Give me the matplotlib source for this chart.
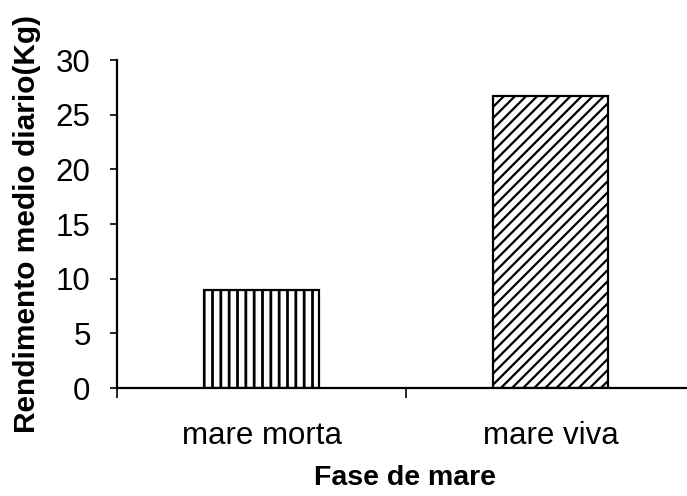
import matplotlib
matplotlib.use("Agg")
import matplotlib.pyplot as plt
from matplotlib.ticker import FixedLocator

categories = ["mare morta", "mare viva"]
values = [9.0, 26.7]
hatches = ["||", "///"]
hatch_widths = [2.0, 1.6]
y_ticks = [0, 5, 10, 15, 20, 25, 30]

plt.rcParams['font.family'] = ['Liberation Sans', 'DejaVu Sans']

fig = plt.figure(figsize=(6.87, 4.96), dpi=100)
W, H = 687, 496
x0, x1 = 117, 687
yb, yt = 388, 60
ax = fig.add_axes([x0 / W, 1 - yb / H, (x1 - x0) / W, (yb - yt) / H])

xs = list(range(len(categories)))
for x, v, h, hw in zip(xs, values, hatches, hatch_widths):
    with plt.rc_context({'hatch.linewidth': hw}):
        ax.bar(x, v, width=0.40, color="white", edgecolor="black", linewidth=1.6, hatch=h)

ax.set_ylim(0, 30)
ax.set_xlim(-0.5, -0.5 + (x1 - x0) / 289)
ax.set_yticks(y_ticks)
ax.set_yticklabels([str(t) for t in y_ticks], fontsize=22.5)
ax.set_xticks(xs)
ax.set_xticklabels(categories, fontsize=22.5)
ax.tick_params(axis='x', which='major', length=0, pad=24)
ax.xaxis.set_minor_locator(FixedLocator([-0.5, 0.5, 1.5]))
ax.tick_params(axis='x', which='minor', length=7, width=1.2, direction='out')
ax.tick_params(axis='y', length=5, width=1.2, direction='out', pad=14)

for s in ["top", "right"]:
    ax.spines[s].set_visible(False)
for s in ["left", "bottom"]:
    ax.spines[s].set_linewidth(1.6)

ax.set_ylabel("Rendimento medio diario(Kg)", fontsize=21.5, fontweight="bold")
ax.yaxis.set_label_coords((27 - x0) / (x1 - x0), (yb - 224) / (yb - yt))
ax.set_xlabel("Fase de mare", fontsize=20.5, fontweight="bold")
ax.xaxis.set_label_coords((405 - x0) / (x1 - x0), -(478 - yb) / (yb - yt))
ax.xaxis.label.set_va("center")
ax.yaxis.label.set_va("center")

fig.savefig("out.png", dpi=100)
